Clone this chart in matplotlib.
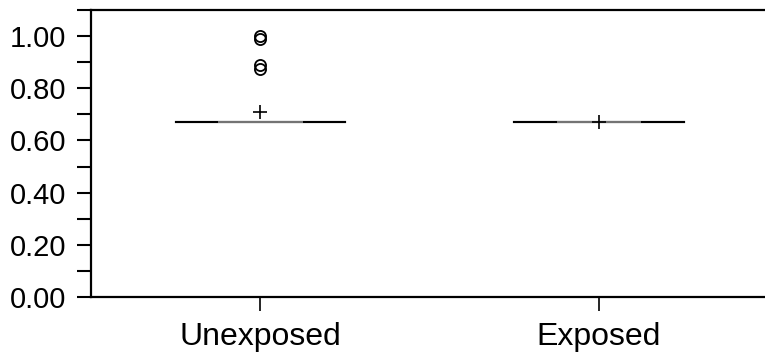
import matplotlib.pyplot as plt
from matplotlib.ticker import MultipleLocator

# ============================================================
# DATA
# ============================================================
groups = ["Unexposed", "Exposed"]
medians = [0.67, 0.67]
q1s = [0.67, 0.67]
q3s = [0.67, 0.67]
whisker_lo = [0.67, 0.67]
whisker_hi = [0.67, 0.67]
means = [0.71, 0.67]
outliers_unexposed = [1.00, 0.99, 0.89, 0.875]
outliers_exposed = []
yticks = [0.0, 0.2, 0.4, 0.6, 0.8, 1.0]

plt.rcParams['font.family'] = ['Liberation Sans', 'DejaVu Sans']

fig = plt.figure(figsize=(7.65, 3.6), dpi=100)
ax = fig.add_axes([91 / 765, 63 / 360, 1 - 91 / 765, 287 / 360])

stats = []
for i, name in enumerate(groups):
    stats.append(dict(
        label=name,
        med=medians[i], q1=q1s[i], q3=q3s[i],
        whislo=whisker_lo[i], whishi=whisker_hi[i],
        mean=means[i],
        fliers=[outliers_unexposed, outliers_exposed][i],
    ))

ax.bxp(stats, positions=[1, 2], widths=0.25, showmeans=True,
       boxprops=dict(color='#8c8c8c', linewidth=1.2),
       medianprops=dict(color='#8c8c8c', linewidth=1.2),
       whiskerprops=dict(color='black', linewidth=1.5),
       capprops=dict(color='black', linewidth=1.5),
       capwidths=0.5,
       meanprops=dict(marker='+', markeredgecolor='black', markersize=10,
                      markeredgewidth=1.2),
       flierprops=dict(marker='o', markerfacecolor='none',
                       markeredgecolor='black', markersize=8,
                       markeredgewidth=1.3))

ax.set_xlim(0.5, 2.49)
ax.set_ylim(0, 1.1)
ax.set_yticks(yticks)
ax.set_yticklabels([f'{t:.2f}' for t in yticks])
ax.yaxis.set_minor_locator(MultipleLocator(0.1))
ax.set_xticks([1, 2])
ax.set_xticklabels(groups)

for side in ['left', 'top', 'bottom']:
    ax.spines[side].set_linewidth(1.6)
ax.spines['right'].set_visible(False)

ax.tick_params(axis='y', which='both', direction='out', length=10, width=1.5,
               labelsize=21, pad=8)
ax.tick_params(axis='x', which='both', direction='out', length=10, width=1.2,
               labelsize=23, pad=8)

fig.savefig('out.png', dpi=100, facecolor='white')
